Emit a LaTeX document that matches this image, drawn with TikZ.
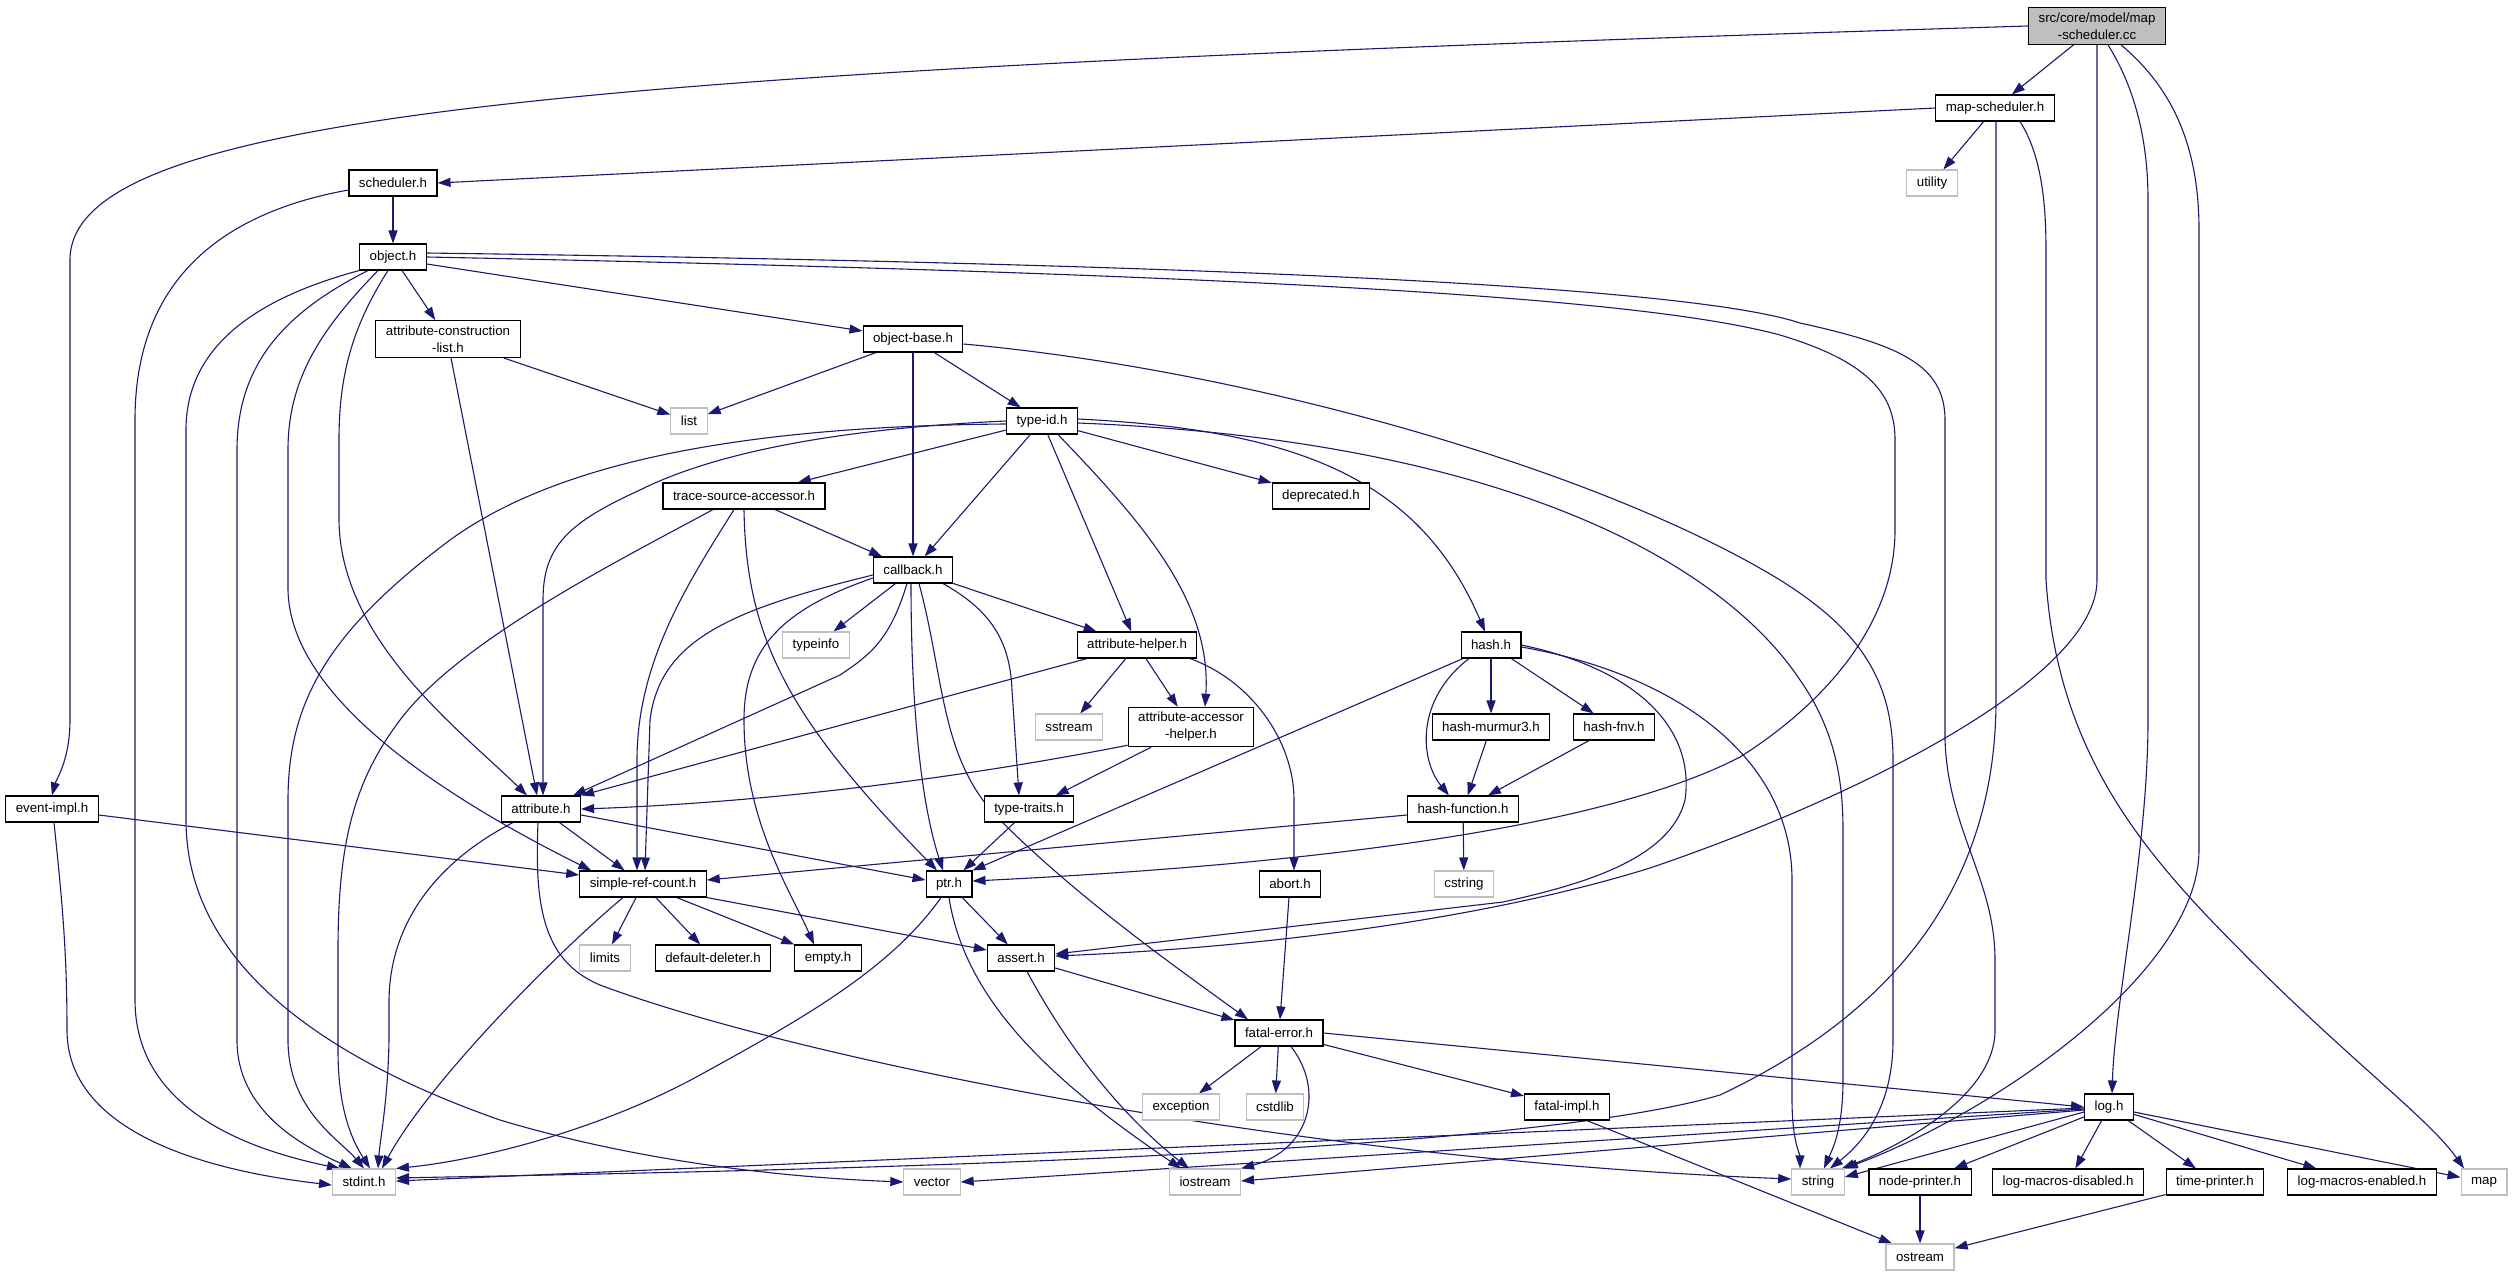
\documentclass[tikz,border=0pt]{standalone}
\usepackage{fontspec}
\setmainfont{Liberation Sans}
\usetikzlibrary{arrows.meta,backgrounds}
\definecolor{edgeblue}{HTML}{191970}
\definecolor{gray75}{HTML}{BFBFBF}
\newcommand{\nodefnt}{\fontsize{13.3}{17}\selectfont}
\tikzset{
  box/.style={draw=black, line width=1.1pt, fill=white, font=\nodefnt, inner xsep=10pt, inner ysep=0pt, minimum height=26pt, align=center},
  sys/.style={box, draw=gray75},
  root/.style={box, fill=gray75},
  twoline/.style={inner ysep=5pt},
  dep/.style={draw=edgeblue, line width=1.1pt, -{Triangle[length=13pt,width=9pt]}}
}
\begin{document}
\begin{tikzpicture}[x=1pt,y=-1pt]
\useasboundingbox (0,0) rectangle (2513,1276);
% nodes
\node[root,twoline] (src) at (2097,26) {src/core/model/map\\-scheduler.cc};
\node[box] (mapsch) at (1995,108) {map-scheduler.h};
\node[sys] (utility) at (1932,183) {utility};
\node[box] (scheduler) at (393,183) {scheduler.h};
\node[box] (object) at (393,257) {object.h};
\node[box,twoline] (acl) at (448,339) {attribute-construction\\-list.h};
\node[box] (objbase) at (913,339) {object-base.h};
\node[sys] (list) at (689,421) {list};
\node[box] (typeid) at (1042,421) {type-id.h};
\node[box] (tsa) at (744,496) {trace-source-accessor.h};
\node[box] (deprecated) at (1321,496) {deprecated.h};
\node[box] (callback) at (913,570) {callback.h};
\node[sys] (typeinfo) at (816,645) {typeinfo};
\node[box] (attrhelper) at (1137,645) {attribute-helper.h};
\node[box] (hash) at (1491,645) {hash.h};
\node[sys] (sstream) at (1069,727) {sstream};
\node[box,twoline] (aah) at (1191,727) {attribute-accessor\\-helper.h};
\node[box] (murmur) at (1491,727) {hash-murmur3.h};
\node[box] (fnv) at (1614,727) {hash-fnv.h};
\node[box] (eventimpl) at (52,809) {event-impl.h};
\node[box] (attribute) at (541,809) {attribute.h};
\node[box] (typetraits) at (1029,809) {type-traits.h};
\node[box] (hashfunc) at (1463,809) {hash-function.h};
\node[box] (srcnt) at (643,884) {simple-ref-count.h};
\node[box] (ptr) at (949,884) {ptr.h};
\node[box] (abort) at (1290,884) {abort.h};
\node[sys] (cstring) at (1464,884) {cstring};
\node[sys] (limits) at (605,958) {limits};
\node[box] (deleter) at (713,958) {default-deleter.h};
\node[box] (empty) at (828,958) {empty.h};
\node[box] (assert) at (1021,958) {assert.h};
\node[box] (fatal) at (1279,1033) {fatal-error.h};
\node[sys] (exception) at (1181,1107) {exception};
\node[sys] (cstdlib) at (1275,1107) {cstdlib};
\node[box] (fatalimpl) at (1567,1107) {fatal-impl.h};
\node[box] (log) at (2109,1107) {log.h};
\node[sys] (stdint) at (364,1182) {stdint.h};
\node[sys] (vector) at (932,1182) {vector};
\node[sys] (iostream) at (1205,1182) {iostream};
\node[sys] (string) at (1818,1182) {string};
\node[box] (nodeprinter) at (1920,1182) {node-printer.h};
\node[box] (lmd) at (2068,1182) {log-macros-disabled.h};
\node[box] (timeprinter) at (2215,1182) {time-printer.h};
\node[box] (lme) at (2362,1182) {log-macros-enabled.h};
\node[sys] (map) at (2484,1182) {map};
\node[sys] (ostream) at (1920,1257) {ostream};
% edges
\begin{scope}[on background layer]
\fill[white] (0,0) rectangle (2513,1276);
% src
\draw[dep] (src) -- (mapsch);
\draw[dep] (src.west) .. controls (600,70) and (70,110) .. (70,260) -- (70,720) .. controls (70,760) and (56,780) .. (eventimpl.north);
\draw[dep] (src.south) -- (2097,580) .. controls (2097,680) and (1850,800) .. (1650,868) .. controls (1450,930) and (1200,950) .. ([yshift=2pt]assert.east);
\draw[dep] ([xshift=11pt]src.south) .. controls (2130,80) and (2148,130) .. (2148,200) -- (2148,720) .. controls (2148,850) and (2115,1000) .. ([xshift=3pt]log.north);
\draw[dep] ([xshift=24pt]src.south) .. controls (2175,90) and (2199,150) .. (2199,230) -- (2199,850) .. controls (2199,970) and (2000,1110) .. (string.north east);
% map-scheduler.h
\draw[dep] (mapsch.west) -- (scheduler.east);
\draw[dep] (mapsch) -- (utility);
\draw[dep] ([xshift=1pt]mapsch.south) -- (1996,700) .. controls (1996,880) and (1900,1010) .. (1720,1095) .. controls (1500,1160) and (700,1172) .. ([yshift=4pt]stdint.east);
\draw[dep] ([xshift=25pt]mapsch.south) .. controls (2038,150) and (2046,190) .. (2046,250) -- (2046,580) .. controls (2058,760) and (2150,860) .. (2250,960) .. controls (2350,1060) and (2430,1120) .. ([xshift=-20pt]map.north);
% scheduler.h
\draw[dep] (scheduler) -- (object);
\draw[dep] ([yshift=-7pt]scheduler.west) .. controls (210,215) and (135,290) .. (135,420) -- (135,1000) .. controls (135,1110) and (250,1150) .. ([xshift=-24pt]stdint.north);
% object.h
\draw[dep] (object) -- (acl);
\draw[dep] ([yshift=-7pt]object.east) -- ([yshift=8pt]objbase.west);
\draw[dep] (object.east) .. controls (1300,275) and (1650,300) .. (1780,335) .. controls (1870,362) and (1895,395) .. (1895,440) -- (1895,530) .. controls (1895,620) and (1830,700) .. (1740,757) .. controls (1600,830) and (1300,865) .. ([yshift=3pt]ptr.east);
\draw[dep] ([yshift=4pt]object.east) .. controls (1300,265) and (1700,290) .. (1800,323) .. controls (1900,345) and (1945,365) .. (1945,420) -- (1945,740) .. controls (1948,830) and (1995,880) .. (1995,960) -- (1995,1030) .. controls (1995,1100) and (1890,1150) .. ([xshift=-3pt]string.north east);
\draw[dep] (object.south west) .. controls (250,300) and (186,350) .. (186,430) -- (186,820) .. controls (186,950) and (300,1050) .. (500,1120) .. controls (650,1165) and (800,1178) .. (vector.west);
\draw[dep] ([xshift=-25pt]object.south) .. controls (290,310) and (237,360) .. (237,450) -- (237,1040) .. controls (237,1110) and (300,1145) .. ([xshift=-12pt]stdint.north);
\draw[dep] ([xshift=-15pt]object.south) .. controls (320,330) and (288,380) .. (288,450) -- (288,590) .. controls (290,700) and (450,800) .. ([xshift=12pt]srcnt.north west);
\draw[dep] ([xshift=-5pt]object.south) .. controls (350,330) and (339,380) .. (339,440) -- (339,520) .. controls (340,640) and (460,730) .. ([xshift=-14pt]attribute.north);
% attribute-construction-list.h
\draw[dep] (acl) -- (list);
\draw[dep] ([xshift=3pt]acl.south) -- ([xshift=-4pt]attribute.north);
% object-base.h
\draw[dep] (objbase) -- (list);
\draw[dep] (objbase) -- (typeid);
\draw[dep] (objbase.south) -- (callback.north);
\draw[dep] ([yshift=-5pt]objbase.east) .. controls (1250,370) and (1600,470) .. (1780,580) .. controls (1860,630) and (1893,680) .. (1893,760) -- (1893,1040) .. controls (1893,1110) and (1860,1145) .. ([xshift=12pt]string.north);
% type-id.h
\draw[dep] (typeid) -- (tsa);
\draw[dep] (typeid) -- (callback);
\draw[dep] (typeid) -- (deprecated);
\draw[dep] (typeid) -- (attrhelper);
\draw[dep] ([xshift=16pt]typeid.south) .. controls (1140,520) and (1212,600) .. ([xshift=14pt]aah.north);
\draw[dep] ([yshift=2pt]typeid.east) .. controls (1300,430) and (1420,480) .. ([xshift=-6pt]hash.north);
\draw[dep] ([yshift=-2pt]typeid.east) .. controls (1500,440) and (1720,560) .. (1800,680) .. controls (1835,730) and (1843,780) .. (1843,830) -- (1843,1080) .. controls (1843,1130) and (1832,1150) .. ([xshift=6pt]string.north);
\draw[dep] (typeid.west) .. controls (850,428) and (720,450) .. (640,490) .. controls (570,522) and (543,545) .. (543,600) -- ([xshift=2pt]attribute.north);
\draw[dep] ([yshift=-3pt]typeid.west) .. controls (750,426) and (560,460) .. (450,540) .. controls (330,630) and (288,700) .. (288,800) -- (288,1040) .. controls (288,1110) and (340,1140) .. (stdint.north);
% trace-source-accessor.h
\draw[dep] (tsa) -- (callback);
\draw[dep] ([xshift=-10pt]tsa.south) .. controls (690,580) and (637,660) .. (637,760) -- ([xshift=-6pt]srcnt.north);
\draw[dep] (tsa.south) .. controls (746,640) and (790,720) .. ([xshift=-12pt]ptr.north);
\draw[dep] ([xshift=-31pt]tsa.south) .. controls (620,560) and (460,640) .. (400,720) .. controls (355,780) and (338,840) .. (338,950) -- (338,1050) .. controls (338,1110) and (352,1140) .. ([xshift=6pt]stdint.north);
% callback.h
\draw[dep] (callback) -- (typeinfo);
\draw[dep] (callback) -- (attrhelper);
\draw[dep] ([xshift=30pt]callback.south) .. controls (990,610) and (1010,640) .. (1012,690) -- ([xshift=-10pt]typetraits.north);
\draw[dep] ([xshift=-2pt]callback.south) .. controls (911,700) and (920,800) .. ([xshift=-6pt]ptr.north);
\draw[dep] ([xshift=6pt]callback.south) .. controls (945,680) and (940,760) .. (1000,820) .. controls (1080,900) and (1180,970) .. ([xshift=-31pt]fatal.north);
\draw[dep] ([yshift=-8pt]callback.west) .. controls (780,610) and (744,650) .. (744,720) .. controls (744,820) and (790,890) .. ([xshift=-14pt]empty.north);
\draw[dep] ([yshift=-5pt]callback.west) .. controls (730,610) and (660,640) .. (650,720) -- ([xshift=2pt]srcnt.north);
\draw[dep] ([xshift=-6pt]callback.south) .. controls (890,640) and (870,655) .. (840,675) -- ([xshift=32pt]attribute.north);
% attribute-helper.h
\draw[dep] ([xshift=-50pt]attrhelper.south) -- (attribute.north east);
\draw[dep] (attrhelper) -- (aah);
\draw[dep] (attrhelper) -- (sstream);
\draw[dep] ([xshift=53pt]attrhelper.south) .. controls (1250,680) and (1294,740) .. (1294,800) -- ([xshift=4pt]abort.north);
% attribute-accessor-helper.h
\draw[dep] ([yshift=2pt]aah.south west) .. controls (900,790) and (700,805) .. (attribute.east);
\draw[dep] (aah) -- (typetraits);
% hash.h
\draw[dep] (hash) -- (murmur);
\draw[dep] (hash) -- (fnv);
\draw[dep] ([xshift=-22pt]hash.south) .. controls (1415,700) and (1420,760) .. ([xshift=-14pt]hashfunc.north);
\draw[dep] ([xshift=-28pt]hash.south) -- (ptr.north east);
\draw[dep] (hash.east) .. controls (1640,670) and (1695,730) .. (1685,800) .. controls (1670,860) and (1580,885) .. (1503,902) -- ([yshift=4pt]assert.east);
\draw[dep] ([yshift=-2pt]hash.east) .. controls (1680,675) and (1792,760) .. (1792,880) -- (1792,1100) .. controls (1792,1140) and (1800,1155) .. ([xshift=-18pt]string.north);
\draw[dep] (murmur) -- (hashfunc);
\draw[dep] (fnv) -- (hashfunc);
% hash-function.h
\draw[dep] (hashfunc) -- (cstring);
\draw[dep] ([yshift=-6pt]hashfunc.west) -- ([yshift=4pt]srcnt.east);
% event-impl.h
\draw[dep] ([yshift=-6pt]eventimpl.east) -- ([yshift=9pt]srcnt.west);
\draw[dep] ([xshift=2pt]eventimpl.south) .. controls (62,900) and (67,950) .. (67,1030) .. controls (67,1130) and (200,1170) .. ([yshift=-3pt]stdint.west);
% attribute.h
\draw[dep] (attribute) -- (srcnt);
\draw[dep] ([yshift=-6pt]attribute.east) -- ([yshift=4pt]ptr.west);
\draw[dep] ([xshift=-28pt]attribute.south) .. controls (440,860) and (390,920) .. (389,1000) -- (389,1040) .. controls (388,1100) and (380,1140) .. ([xshift=14pt]stdint.north);
\draw[dep] ([xshift=-3pt]attribute.south) .. controls (535,900) and (540,960) .. (600,985) .. controls (800,1060) and (1300,1160) .. ([yshift=3pt]string.west);
% type-traits.h
\draw[dep] (typetraits) -- (ptr);
% simple-ref-count.h
\draw[dep] (srcnt) -- (limits);
\draw[dep] (srcnt) -- (deleter);
\draw[dep] (srcnt) -- (empty);
\draw[dep] (srcnt.south east) -- ([yshift=8pt]assert.west);
\draw[dep] ([xshift=-20pt]srcnt.south) .. controls (560,950) and (430,1080) .. ([xshift=18pt]stdint.north);
% ptr.h
\draw[dep] (ptr) -- (assert);
\draw[dep] (ptr.south) .. controls (965,1000) and (1050,1080) .. ([xshift=-24pt]iostream.north);
\draw[dep] ([xshift=-8pt]ptr.south) .. controls (890,970) and (800,1020) .. (700,1075) .. controls (600,1130) and (480,1160) .. (stdint.north east);
% abort.h, assert.h
\draw[dep] (abort) -- (fatal);
\draw[dep] (assert) -- (fatal);
\draw[dep] ([xshift=6pt]assert.south) .. controls (1080,1070) and (1140,1130) .. ([xshift=-16pt]iostream.north);
% fatal-error.h
\draw[dep] (fatal) -- (exception);
\draw[dep] (fatal) -- (cstdlib);
\draw[dep] ([xshift=12pt]fatal.south) .. controls (1325,1090) and (1310,1150) .. (iostream.north east);
\draw[dep] (fatal) -- (fatalimpl);
\draw[dep] (fatal.east) -- (log.west);
% fatal-impl.h
\draw[dep] ([xshift=20pt]fatalimpl.south) -- ([xshift=-28pt]ostream.north);
% log.h
\draw[dep] ([yshift=-1pt]log.west) -- ([yshift=1pt]stdint.east);
\draw[dep] ([yshift=-2pt]log.west) -- (vector.east);
\draw[dep] ([yshift=-3pt]log.west) -- ([yshift=1pt]iostream.east);
\draw[dep] ([yshift=-5pt]log.west) -- ([yshift=5pt]string.east);
\draw[dep] (log) -- (nodeprinter);
\draw[dep] (log) -- (lmd);
\draw[dep] (log) -- (timeprinter);
\draw[dep] (log) -- (lme);
\draw[dep] (log) -- (map);
\draw[dep] (nodeprinter) -- (ostream);
\draw[dep] (timeprinter) -- (ostream);
\end{scope}
\end{tikzpicture}
\end{document}
